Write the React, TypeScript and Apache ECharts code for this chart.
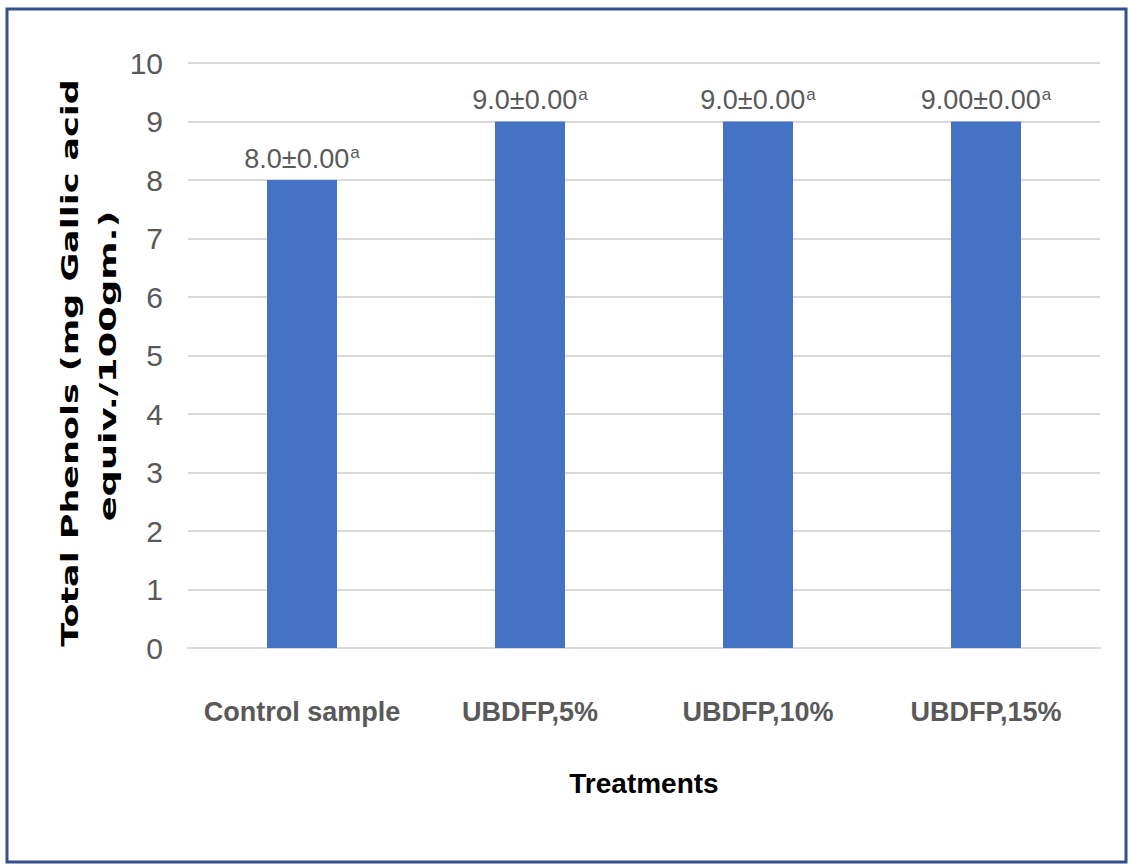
import React, { useEffect, useRef } from "react";
import * as echarts from "echarts";

const categories = ["Control sample", "UBDFP,5%", "UBDFP,10%", "UBDFP,15%"];
const values = [8.0, 9.0, 9.0, 9.0];
const valueTexts = ["8.0±0.00", "9.0±0.00", "9.0±0.00", "9.00±0.00"];
const letters = ["a", "a", "a", "a"];
const yTicks = [0, 1, 2, 3, 4, 5, 6, 7, 8, 9, 10];

const SANS = '"Liberation Sans", Arial, sans-serif';
const TITLE_FONT = 'bold 23px "DejaVu Sans", Verdana, sans-serif';

export default function App() {
  const ref = useRef<HTMLDivElement>(null);

  useEffect(() => {
    if (!ref.current) return;
    const chart = echarts.init(ref.current, undefined, { renderer: "svg" });
    chart.setOption({
      animation: false,
      backgroundColor: "#ffffff",
      grid: { left: 188, right: 29, top: 63, bottom: 218, containLabel: false },
      xAxis: {
        type: "category",
        data: categories,
        axisLine: { show: true, lineStyle: { color: "#d9d9d9", width: 2 } },
        axisTick: { show: false },
        axisLabel: {
          interval: 0,
          color: "#595959",
          fontFamily: SANS,
          fontWeight: "bold",
          fontSize: 27,
          margin: 50,
        },
        name: "Treatments",
        nameLocation: "middle",
        nameGap: 121,
        nameTextStyle: {
          color: "#000000",
          fontFamily: SANS,
          fontWeight: "bold",
          fontSize: 28,
        },
      },
      yAxis: {
        type: "value",
        min: yTicks[0],
        max: yTicks[yTicks.length - 1],
        interval: 1,
        axisLine: { show: false },
        axisTick: { show: false },
        splitLine: { lineStyle: { color: "#d9d9d9", width: 2 } },
        axisLabel: {
          color: "#595959",
          fontFamily: SANS,
          fontSize: 30,
          margin: 25,
        },
      },
      series: [
        {
          type: "bar",
          data: values,
          barWidth: 70,
          itemStyle: { color: "#4472c4" },
          label: {
            show: true,
            position: "top",
            distance: 7,
            formatter: (p: any) =>
              `{v|${valueTexts[p.dataIndex]}}{s|${letters[p.dataIndex]}}`,
            rich: {
              v: {
                color: "#595959",
                fontFamily: SANS,
                fontSize: 27,
              },
              s: {
                color: "#595959",
                fontFamily: SANS,
                fontSize: 17,
                verticalAlign: "top",
                padding: [0, 0, 12, 1],
              },
            },
          },
        },
      ],
      graphic: [
        {
          type: "rect",
          shape: { x: 7, y: 9, width: 1119, height: 853 },
          style: { fill: "none", stroke: "#34508f", lineWidth: 3 },
          silent: true,
        },
        {
          type: "text",
          x: 70,
          y: 363,
          rotation: Math.PI / 2,
          scaleX: 1.52,
          style: {
            text: "Total Phenols (mg Gallic acid",
            fill: "#000000",
            font: TITLE_FONT,
            align: "center",
            verticalAlign: "middle",
          },
        },
        {
          type: "text",
          x: 108,
          y: 366,
          rotation: Math.PI / 2,
          scaleX: 1.6,
          style: {
            text: "equiv./100gm.)",
            fill: "#000000",
            font: TITLE_FONT,
            align: "center",
            verticalAlign: "middle",
          },
        },
      ],
    });
    return () => chart.dispose();
  }, []);

  return (
    <div
      ref={ref}
      style={{ position: "absolute", left: 0, top: 0, width: 1129, height: 866 }}
    />
  );
}
